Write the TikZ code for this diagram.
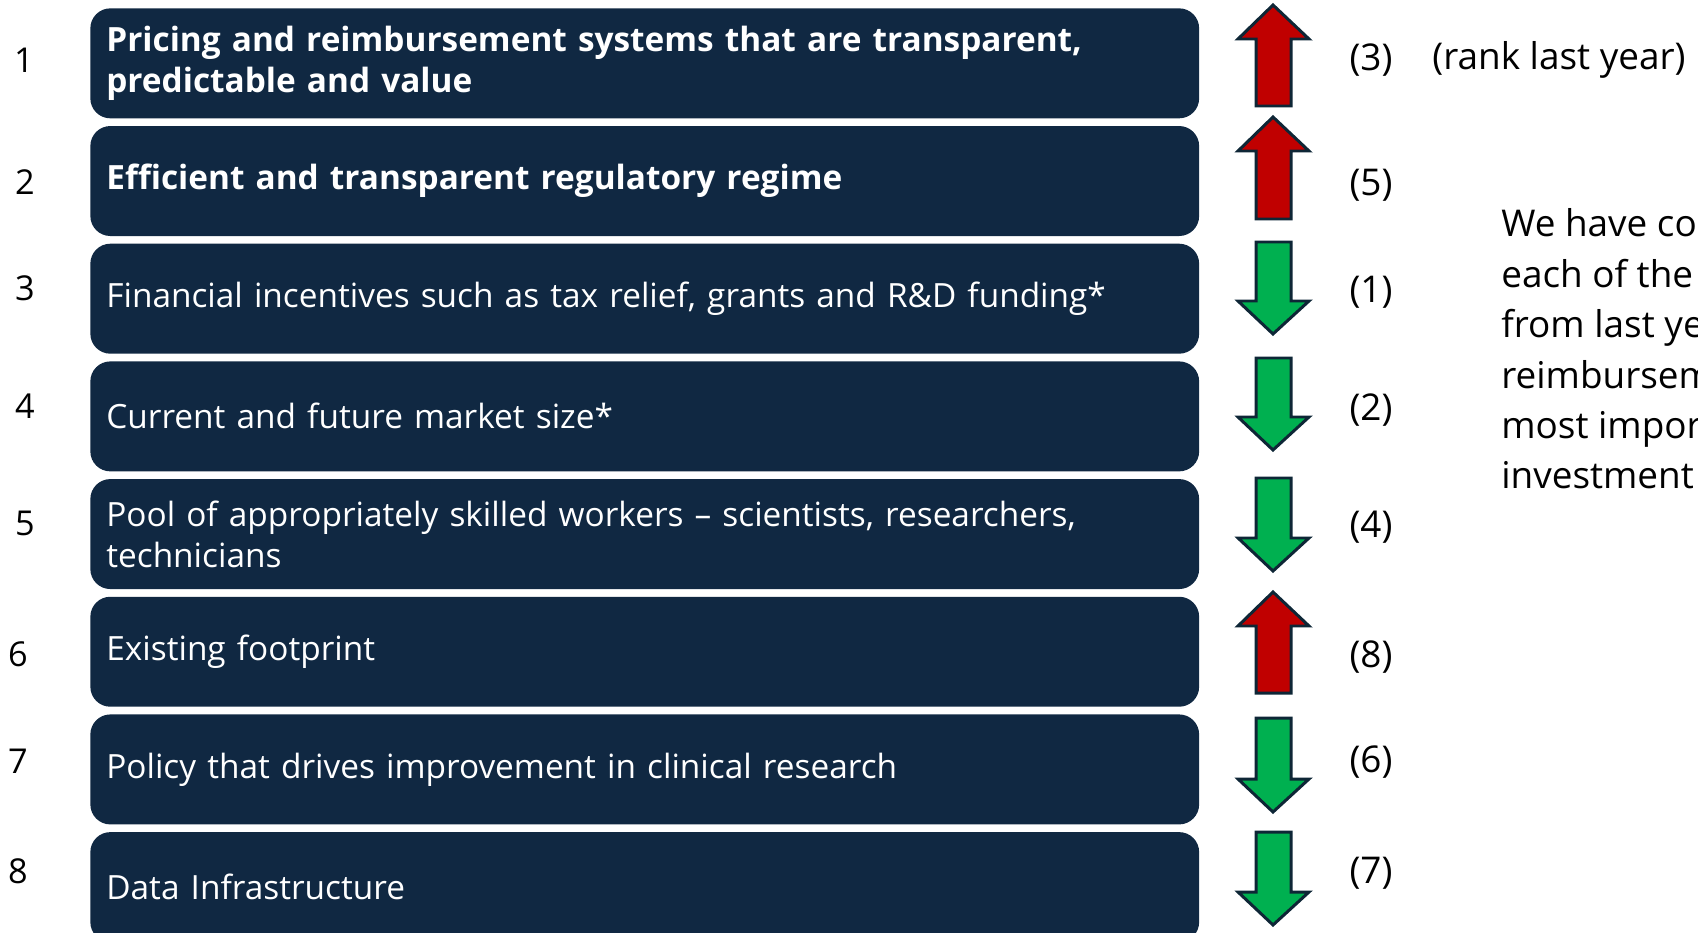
\documentclass[tikz,border=0pt]{standalone}
\usepackage{fontspec}
\setmainfont{Open Sans}
\usetikzlibrary{positioning}
\definecolor{navy}{RGB}{16,40,66}
\definecolor{uparrow}{RGB}{192,0,0}
\definecolor{downarrow}{RGB}{0,176,80}
\definecolor{arrowline}{RGB}{14,38,54}

\begin{document}
\begin{tikzpicture}[x=0.02cm, y=-0.02cm,
	factor/.style={fill=navy, rounded corners=0.4cm, text=white, align=left,
		text width=21.54cm, inner xsep=0.32cm, inner ysep=0pt,
		minimum height=2.2cm, font=\fontsize{19}{23.3}\selectfont},
	rownum/.style={font=\fontsize{19.5}{23}\selectfont, inner sep=0pt},
	rank/.style={font=\fontsize{21}{26}\selectfont, inner sep=0pt},
	updown/.style={draw=arrowline, line width=1.7pt, line join=miter}]
		\useasboundingbox (0, 0) rectangle (1698, 933);
		% the eight factors
		\node [factor, anchor=north west] (r1) at (90, 8) {\bfseries Pricing and reimbursement systems that are transparent,\\predictable and value};
		\node [factor, below=0.14cm of r1] (r2) {\bfseries Efficient and transparent regulatory regime};
		\node [factor, below=0.14cm of r2] (r3) {Financial incentives such as tax relief, grants and R\&D funding*};
		\node [factor, below=0.14cm of r3] (r4) {Current and future market size*};
		\node [factor, below=0.14cm of r4] (r5) {Pool of appropriately skilled workers -- scientists, researchers,\\technicians};
		\node [factor, below=0.14cm of r5] (r6) {Existing footprint};
		\node [factor, below=0.14cm of r6] (r7) {Policy that drives improvement in clinical research};
		\node [factor, below=0.14cm of r7] (r8) {Data Infrastructure};
		% ranks this year
		\node [rownum] (n1) at (24, 60) {1};
		\node [rownum] (n2) at (25, 182) {2};
		\node [rownum] (n3) at (25, 288) {3};
		\node [rownum] (n4) at (25, 406) {4};
		\node [rownum] (n5) at (25, 523) {5};
		\node [rownum] (n6) at (18, 654) {6};
		\node [rownum] (n7) at (18, 761) {7};
		\node [rownum] (n8) at (18, 871) {8};
		% arrows up and down
		\foreach \t/\b in {5/106, 117/219, 592/693}
			\draw [updown, fill=uparrow] (1273, \t) -- (1309, \t+34) -- (1291, \t+34) -- (1291, \b) -- (1256, \b) -- (1256, \t+34) -- (1238, \t+34) -- cycle;
		\foreach \t/\b in {242/334, 358/450, 478/571, 718/812, 832/925}
			\draw [updown, fill=downarrow] (1256, \t) -- (1291, \t) -- (1291, \b-33) -- (1309, \b-33) -- (1273, \b) -- (1238, \b-33) -- (1256, \b-33) -- cycle;
		% ranks last year
		\node [rank] (k1) at (1371, 60) {(3)};
		\node [rank] (k2) at (1371, 185) {(5)};
		\node [rank] (k3) at (1371, 292) {(1)};
		\node [rank] (k4) at (1371, 410) {(2)};
		\node [rank] (k5) at (1371, 527) {(4)};
		\node [rank] (k6) at (1371, 657) {(8)};
		\node [rank] (k7) at (1371, 762) {(6)};
		\node [rank] (k8) at (1371, 873) {(7)};
		\node [rank, anchor=west] (note) at (1432, 60) {(rank last year)};
		\node [rank, anchor=west, align=left, font=\fontsize{21}{28.7}\selectfont] (comment) at (1501, 349) {We have co\\each of the\\from last ye\\reimbursem\\most impor\\investment};
	\end{tikzpicture}
\end{document}
